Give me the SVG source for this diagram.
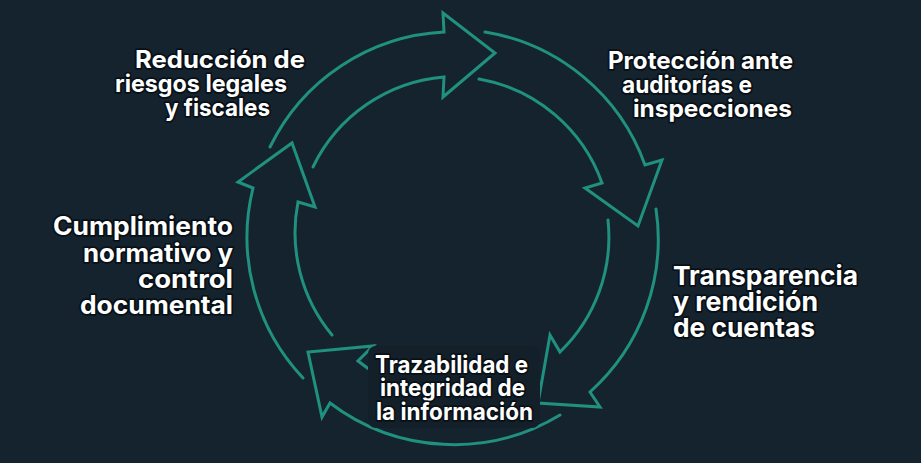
<svg xmlns="http://www.w3.org/2000/svg" width="921" height="463" viewBox="0 0 921 463">
<style>
.bg{fill:#15232f}
.arrow{fill:none;stroke:#20907f;stroke-width:3;stroke-linejoin:miter;stroke-linecap:round}
.lbl{font-family:Inter,"Noto Sans","Liberation Sans",sans-serif;font-weight:700;fill:#ffffff;stroke:#081016;stroke-width:3.5;paint-order:stroke;stroke-linejoin:round}
.s24{font-size:24px}
.s25{font-size:25px}
.s26{font-size:26px}
</style>
<rect class="bg" x="0" y="0" width="921" height="463"/>
<g id="connectors">
<path id="arrow1" class="arrow" d="M270,147 A205,205 0 0 1 444,32 L443,13 L495,53 L443,97 L444,77 A160,160 0 0 0 313,167"/>
<path id="arrow2" class="arrow" d="M485,32 A205,205 0 0 1 645,165 L662,160 L638,226 L585,188 L602,183 A160,160 0 0 0 479,79"/>
<path id="arrow3" class="arrow" d="M656,209 A205,205 0 0 1 590,392 L600,407 L538,403 L550,335 L560,352 A160,160 0 0 0 608,220"/>
<path id="arrow4" class="arrow" d="M560,415 A205,205 0 0 1 330,403 L322,417 L308,352 L373,346 L358,361 A160,160 0 0 0 532,378"/>
<path id="arrow5" class="arrow" d="M303,378 A205,205 0 0 1 253,188 L238,182 L292,143 L315,207 L298,202 A160,160 0 0 0 332,335"/>
</g>
<g id="node-reduccion">
<text class="lbl s24" x="135" y="68" textLength="170" lengthAdjust="spacingAndGlyphs">Reducción de</text>
<text class="lbl s24" x="115" y="92" textLength="172" lengthAdjust="spacingAndGlyphs">riesgos legales</text>
<text class="lbl s24" x="165" y="116" textLength="105" lengthAdjust="spacingAndGlyphs">y fiscales</text>
</g>
<g id="node-proteccion">
<text class="lbl s24" x="608" y="69" textLength="185" lengthAdjust="spacingAndGlyphs">Protección ante</text>
<text class="lbl s24" x="622" y="93" textLength="130" lengthAdjust="spacingAndGlyphs">auditorías e</text>
<text class="lbl s24" x="633" y="117" textLength="159" lengthAdjust="spacingAndGlyphs">inspecciones</text>
</g>
<g id="node-transparencia">
<text class="lbl s26" x="673" y="285" textLength="185" lengthAdjust="spacingAndGlyphs">Transparencia</text>
<text class="lbl s26" x="673" y="311" textLength="145" lengthAdjust="spacingAndGlyphs">y rendición</text>
<text class="lbl s26" x="673" y="337" textLength="142" lengthAdjust="spacingAndGlyphs">de cuentas</text>
</g>
<g id="node-trazabilidad">
<rect x="368" y="346" width="172" height="82" rx="8" fill="#142029"/>
<text class="lbl s24" x="375" y="373" textLength="153" lengthAdjust="spacingAndGlyphs">Trazabilidad e</text>
<text class="lbl s24" x="380" y="396" textLength="145" lengthAdjust="spacingAndGlyphs">integridad de</text>
<text class="lbl s24" x="376" y="420" textLength="157" lengthAdjust="spacingAndGlyphs">la información</text>
</g>
<g id="node-cumplimiento">
<text class="lbl s25" x="233" y="235" text-anchor="end" textLength="180" lengthAdjust="spacingAndGlyphs">Cumplimiento</text>
<text class="lbl s25" x="233" y="262" text-anchor="end" textLength="150" lengthAdjust="spacingAndGlyphs">normativo y</text>
<text class="lbl s25" x="233" y="288" text-anchor="end" textLength="95" lengthAdjust="spacingAndGlyphs">control</text>
<text class="lbl s25" x="233" y="314" text-anchor="end" textLength="153" lengthAdjust="spacingAndGlyphs">documental</text>
</g>
</svg>
